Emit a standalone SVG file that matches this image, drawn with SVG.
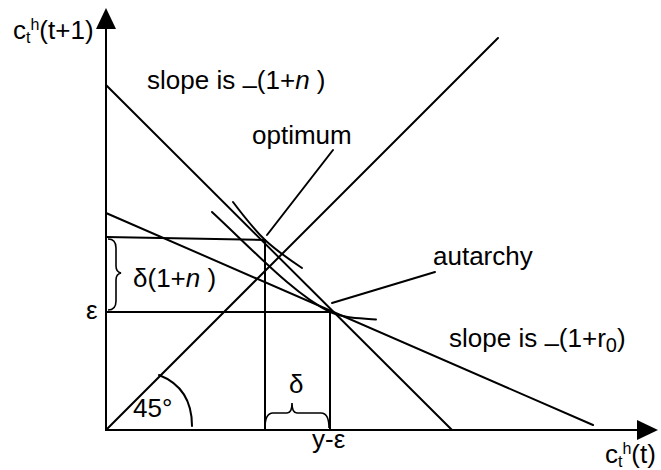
<svg xmlns="http://www.w3.org/2000/svg" width="661" height="470" viewBox="0 0 661 470">
<style>
.ln{stroke:#000;stroke-width:2;fill:none;stroke-linecap:round}
.br{stroke:#000;stroke-width:1.6;fill:none}
.t{font-family:"Liberation Sans",Arial,sans-serif;font-size:26px;fill:#000}
.s{font-size:16px}
</style>
<rect width="661" height="470" fill="#fff"/>
<g id="axes">
<line class="ln" x1="106" y1="430" x2="106" y2="26" stroke-width="2.4"/>
<line class="ln" x1="106" y1="430" x2="640" y2="430" stroke-width="2.4"/>
<polygon points="106,8 96,29 116,29" fill="#000"/>
<polygon points="658,430 637,420 637,440" fill="#000"/>
</g>
<g id="connectors">
<line id="line45" class="ln" x1="106" y1="430" x2="498" y2="38"/>
<line id="steep" class="ln" x1="106" y1="85" x2="452" y2="430"/>
<line id="budget" class="ln" x1="106" y1="213" x2="593" y2="425"/>
<line class="ln" x1="106" y1="237" x2="265" y2="240"/>
<line class="ln" x1="265" y1="240" x2="265" y2="430"/>
<line class="ln" x1="106" y1="312" x2="330" y2="312"/>
<line class="ln" x1="330" y1="312" x2="330" y2="430"/>
<path id="ic-opt" class="ln" d="M233,202 C245,218 255,230 265,240 C278,252 290,260 302,268"/>
<path id="ic-aut" class="ln" d="M212,212 C255,252 295,295 330,312 C345,318.6 360,318 376,319.5"/>
<line class="ln" x1="333" y1="150" x2="267" y2="235"/>
<line class="ln" x1="435" y1="272" x2="332" y2="303"/>
<path id="arc45" class="ln" d="M159,375 Q192,388 192,426"/>
<path id="brace-left" class="br" d="M108,239 Q116,239 116,248 L116,266 Q116,272 121,273 Q116,274 116,280 L116,301 Q116,310 108,310"/>
<path id="brace-bottom" class="br" d="M265,428 Q265,413 273,413 L287,413 Q292,413 292,403 Q292,413 297,413 L321,413 Q329,413 329,428"/>
</g>
<g id="labels">
<text class="t" x="13" y="39">c<tspan class="s" dy="4">t</tspan><tspan class="s" dy="-13">h</tspan><tspan dy="9">(t+1)</tspan></text>
<text class="t" x="605" y="463">c<tspan class="s" dy="4">t</tspan><tspan class="s" dy="-13">h</tspan><tspan dy="9">(t)</tspan></text>
<text class="t" x="147" y="89">slope is <tspan dy="5">–</tspan><tspan dy="-5">(1+</tspan><tspan font-style="italic">n</tspan> )</text>
<text class="t" x="252" y="144">optimum</text>
<text class="t" x="433" y="265">autarchy</text>
<text class="t" x="449" y="347">slope is <tspan dy="5">–</tspan><tspan dy="-5">(1+r</tspan><tspan font-size="20" dy="5">0</tspan><tspan dy="-5">)</tspan></text>
<text class="t" x="133" y="287">δ(1+<tspan font-style="italic">n</tspan> )</text>
<text class="t" x="86" y="319">ε</text>
<text class="t" x="133" y="417">45°</text>
<text class="t" x="289" y="393" font-size="22">δ</text>
<text class="t" x="312" y="448">y-ε</text>
</g>
</svg>
